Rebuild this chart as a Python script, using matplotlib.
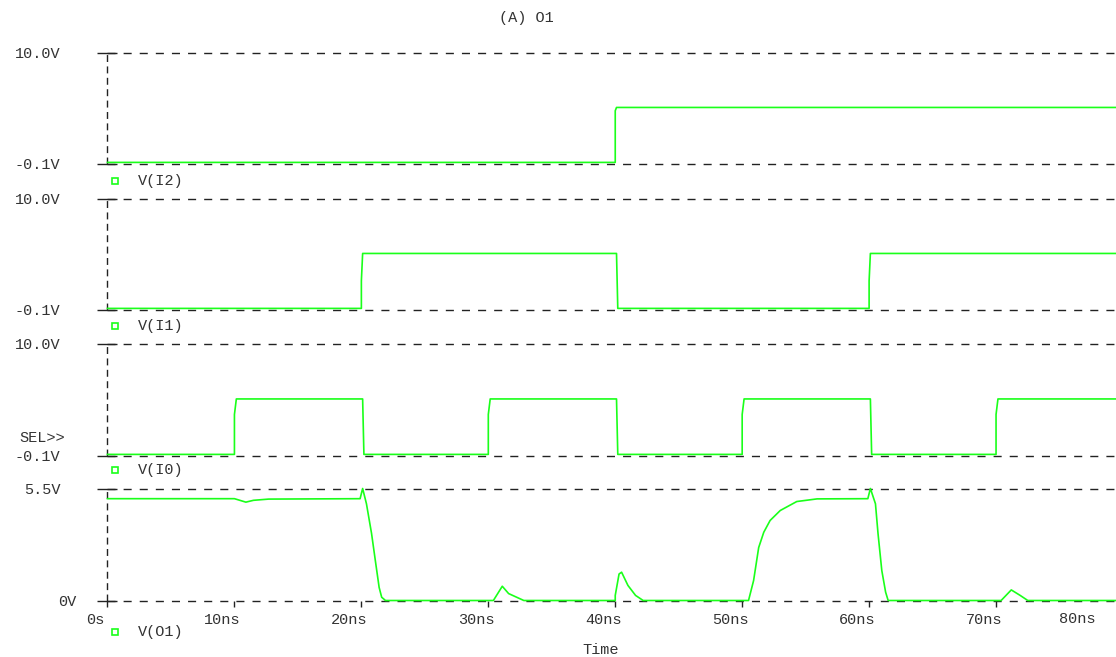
import matplotlib.pyplot as plt
import matplotlib.transforms as mtransforms

# waveform data (time in ns, volts)
i2_t = [0, 40.0, 40.0, 40.1, 79.45]
i2_v = [0, 0, 4.7, 5.0, 5.0]

i1_t = [0, 20.0, 20.0, 20.1, 40.1, 40.2, 60.0, 60.0, 60.1, 79.45]
i1_v = [0, 0, 2.5, 5.0, 5.0, 0, 0, 2.5, 5.0, 5.0]

i0_t = [0, 10.0, 10.0, 10.15, 20.1, 20.2, 30.0, 30.0, 30.15, 40.1, 40.2,
        50.0, 50.0, 50.15, 60.1, 60.2, 70.0, 70.0, 70.15, 79.45]
i0_v = [0, 0, 3.6, 5.0, 5.0, 0, 0, 3.6, 5.0, 5.0, 0,
        0, 3.6, 5.0, 5.0, 0, 0, 3.6, 5.0, 5.0]

o1_t = [0, 10.0, 10.9, 11.5, 12.7, 19.9, 20.1, 20.4, 20.8, 21.1, 21.4, 21.6, 21.9,
        30.0, 30.4, 31.1, 31.6, 32.8,
        40.0, 40.0, 40.3, 40.5, 41.0, 41.6, 42.2,
        50.5, 50.9, 51.3, 51.7, 52.2, 53.0, 54.3, 55.9, 59.9,
        60.1, 60.5, 60.7, 61.0, 61.3, 61.5,
        70.4, 71.2, 71.9, 72.5, 79.45]
o1_v = [5.0, 5.0, 4.83, 4.92, 4.98, 5.0, 5.5, 4.75, 3.3, 1.96, 0.64, 0.16, 0.0,
        0.0, 0.0, 0.70, 0.34, 0.0,
        0.0, 0.25, 1.3, 1.39, 0.74, 0.25, 0.0,
        0.0, 0.98, 2.6, 3.35, 3.93, 4.42, 4.86, 4.99, 5.0,
        5.5, 4.75, 3.3, 1.47, 0.41, 0.0,
        0.0, 0.52, 0.25, 0.0, 0.0]

names = ['V(I2)', 'V(I1)', 'V(I0)', 'V(O1)']
ylims = [(-0.1, 10.0), (-0.1, 10.0), (-0.1, 10.0), (0.0, 5.5)]
ylabels = [['-0.1V', '10.0V'], ['-0.1V', '10.0V'], ['-0.1V', '10.0V'], ['0V', '5.5V']]
xticks = [0, 10, 20, 30, 40, 50, 60, 70]
xticklabels = ['0s', '10ns', '20ns', '30ns', '40ns', '50ns', '60ns', '70ns']

W, H = 1116, 657
green = '#1aff1a'
dark = '#222222'
txt = '#333333'
mono = 'Liberation Mono'

fig = plt.figure(figsize=(W / 100, H / 100), dpi=100)

# panel pixel rows (top, bottom) and legend row; .5 keeps the dashed rules on one pixel row
rows = [(52.5, 163.5), (198.5, 309.5), (343.5, 455.5), (488.5, 600.5)]
legend_y = [181, 326, 470, 632]
series = [(i2_t, i2_v), (i1_t, i1_v), (i0_t, i0_v), (o1_t, o1_v)]

x0 = 107.5
for k in range(4):
    top, bot = rows[k]
    ax = fig.add_axes([x0 / W, 1 - bot / H, (W - x0) / W, (bot - top) / H])
    t, v = series[k]
    ax.plot(t, v, color=green, lw=1.2, clip_on=False, zorder=3)
    lo, hi = ylims[k]
    ax.set_xlim(0, 79.45)
    ax.set_ylim(lo, hi)
    for s in ax.spines.values():
        s.set_visible(False)
    ax.axhline(lo, color=dark, lw=1.0, ls=(0, (5.8, 5.8)), zorder=1, clip_on=False)
    ax.axhline(hi, color=dark, lw=1.0, ls=(0, (5.8, 5.8)), zorder=1, clip_on=False)
    ax.axvline(0, color=dark, lw=1.0, ls=(0, (5, 3.2)), zorder=1, clip_on=False)
    ax.set_yticks([lo, hi])
    ax.set_yticklabels(ylabels[k], fontfamily=mono, fontsize=11, color=txt)
    ax.tick_params(axis='y', direction='inout', length=14, width=1.0, color=dark, pad=27)
    if k < 3:
        ax.set_xticks([])
    else:
        ax.set_xticks(xticks)
        ax.set_xticklabels(xticklabels, fontfamily=mono, fontsize=11, color=txt)
        ax.tick_params(axis='x', direction='out', length=4, width=1.0, color=dark, pad=5)
        off = mtransforms.ScaledTranslation(-0.12, 0, fig.dpi_scale_trans)
        for lab in ax.get_xticklabels():
            lab.set_transform(lab.get_transform() + off)
        off0 = mtransforms.ScaledTranslation(0.16, 0, fig.dpi_scale_trans)
        lab0 = ax.get_yticklabels()[0]
        lab0.set_transform(lab0.get_transform() + off0)

    # legend entry
    ly = 1 - legend_y[k] / H
    fig.add_artist(plt.Line2D([115 / W], [ly], marker='s', ms=5, mfc='none',
                              mec=green, mew=1.2, ls='none'))
    fig.text(138 / W, ly, names[k], fontfamily=mono, fontsize=11, color=txt,
             va='center', ha='left')

fig.text(1077 / W, 1 - 619 / H, '80ns', fontfamily=mono, fontsize=11, color=txt,
         va='center', ha='center')
fig.text(65 / W, 1 - 438 / H, 'SEL>>', fontfamily=mono, fontsize=11, color=txt,
         va='center', ha='right')
fig.text(526 / W, 1 - 18 / H, '(A) O1', fontfamily=mono, fontsize=11, color=txt,
         va='center', ha='center')
fig.text(601 / W, 1 - 650 / H, 'Time', fontfamily=mono, fontsize=11, color=txt,
         va='center', ha='center')

fig.savefig('out.png', dpi=100, facecolor='white')
